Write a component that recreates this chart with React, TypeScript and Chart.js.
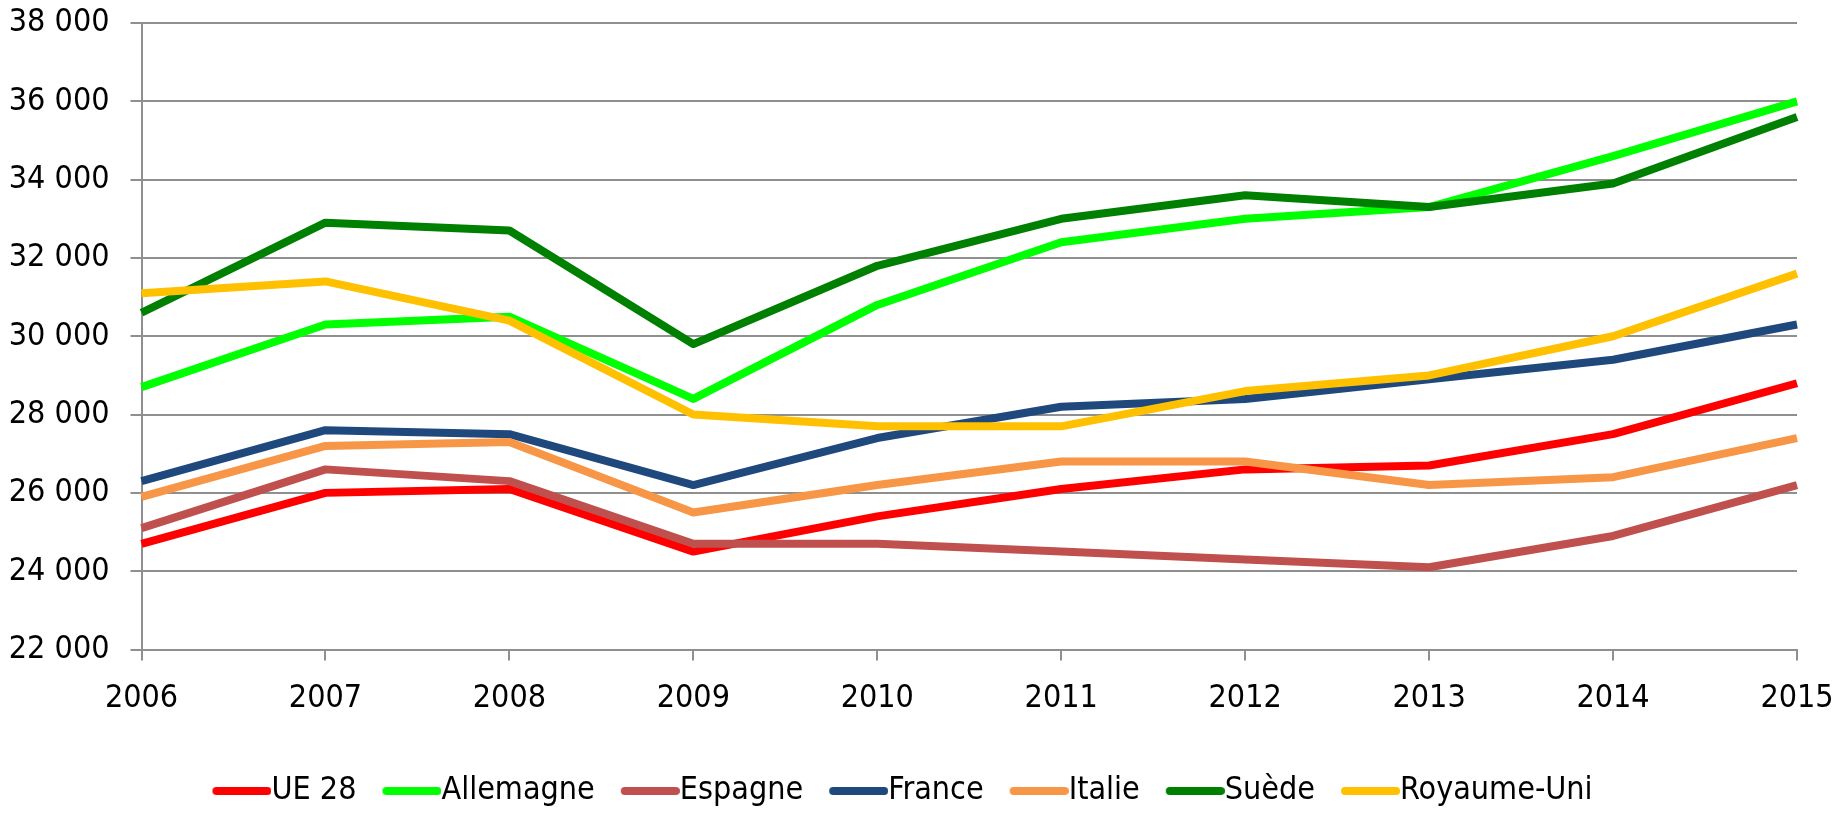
import React, { useEffect, useRef } from 'react';
import { Chart, registerables } from 'chart.js';

Chart.register(...registerables);

const years = ['2006', '2007', '2008', '2009', '2010', '2011', '2012', '2013', '2014', '2015'];

const ue28 = [24700, 26000, 26100, 24500, 25400, 26100, 26600, 26700, 27500, 28800];
const allemagne = [28700, 30300, 30500, 28400, 30800, 32400, 33000, 33300, 34600, 36000];
const espagne = [25100, 26600, 26300, 24700, 24700, 24500, 24300, 24100, 24900, 26200];
const france = [26300, 27600, 27500, 26200, 27400, 28200, 28400, 28900, 29400, 30300];
const italie = [25900, 27200, 27300, 25500, 26200, 26800, 26800, 26200, 26400, 27400];
const suede = [30600, 32900, 32700, 29800, 31800, 33000, 33600, 33300, 33900, 35600];
const royaumeUni = [31100, 31400, 30400, 28000, 27700, 27700, 28600, 29000, 30000, 31600];

const seriesNames = ['UE 28', 'Allemagne', 'Espagne', 'France', 'Italie', 'Suède', 'Royaume-Uni'];
const seriesValues = [ue28, allemagne, espagne, france, italie, suede, royaumeUni];
const seriesColors = ['#FF0000', '#00FF00', '#C0504D', '#1F497D', '#F79646', '#008000', '#FFC000'];

const yMin = 22000;
const yMax = 38000;
const yStep = 2000;

const FONT = "'Liberation Sans Narrow', 'Arial Narrow', 'DejaVu Sans Condensed', sans-serif";
const FONT_SIZE = 32;
const GRID = '#8f8f8f';

const LEG_LINE = 59;
const LEG_BOX = LEG_LINE - FONT_SIZE / 2;

function formatThousands(v: number): string {
  return String(v).replace(/\B(?=(\d{3})+(?!\d))/g, ' ');
}

function makeLegendImage(color: string): HTMLCanvasElement {
  const W = Math.round(2 * (LEG_LINE - LEG_BOX / 2));
  const c = document.createElement('canvas');
  c.width = W;
  c.height = 8;
  const ctx = c.getContext('2d')!;
  ctx.fillStyle = color;
  ctx.beginPath();
  const x0 = W - LEG_LINE, x1 = W, r = 4;
  ctx.moveTo(x0 + r, 0);
  ctx.lineTo(x1 - r, 0);
  ctx.arc(x1 - r, 4, r, -Math.PI / 2, Math.PI / 2);
  ctx.lineTo(x0 + r, 8);
  ctx.arc(x0 + r, 4, r, Math.PI / 2, Math.PI * 1.5);
  ctx.closePath();
  ctx.fill();
  return c;
}

export default function App() {
  const canvasRef = useRef<HTMLCanvasElement | null>(null);

  useEffect(() => {
    if (!canvasRef.current) return;
    const images = seriesColors.map((c) => makeLegendImage(c));
    const chart = new Chart(canvasRef.current, {
      type: 'line',
      data: {
        labels: years,
        datasets: seriesNames.map((name, i) => ({
          label: name,
          data: seriesValues[i],
          borderColor: seriesColors[i],
          backgroundColor: seriesColors[i],
          borderWidth: 8,
          pointRadius: 0,
          pointHoverRadius: 0,
          tension: 0,
          fill: false,
          borderJoinStyle: 'round' as const,
          borderCapStyle: 'butt' as const,
          order: 10 - i,
        })),
      },
      options: {
        responsive: false,
        animation: false,
        devicePixelRatio: 1,
        layout: { padding: { top: 15, right: 41, left: 0, bottom: 0 } },
        plugins: {
          tooltip: { enabled: false },
          legend: {
            position: 'bottom',
            labels: {
              usePointStyle: true,
              pointStyleWidth: LEG_BOX,
              boxHeight: 8,
              padding: 26,
              color: '#000',
              font: { family: FONT, size: FONT_SIZE },
              generateLabels: (ch: any) =>
                ch.data.datasets.map((ds: any, i: number) => ({
                  text: ds.label,
                  fillStyle: ds.borderColor,
                  strokeStyle: ds.borderColor,
                  lineWidth: 0,
                  pointStyle: images[i],
                  hidden: false,
                  datasetIndex: i,
                  fontColor: '#000',
                })),
            },
          },
        },
        scales: {
          x: {
            type: 'category',
            offset: false,
            grid: {
              display: true,
              drawOnChartArea: false,
              drawTicks: true,
              tickLength: 11,
              color: GRID,
              lineWidth: 2,
            },
            border: { display: true, color: GRID, width: 2 },
            ticks: {
              color: '#000',
              padding: 19,
              maxRotation: 0,
              autoSkip: false,
              font: { family: FONT, size: FONT_SIZE },
            },
            afterFit: (scale: any) => {
              scale.height = 99.5;
              scale.paddingLeft = 0;
              scale.paddingRight = 0;
            },
          },
          y: {
            min: yMin,
            max: yMax,
            grid: {
              color: GRID,
              lineWidth: 2,
              drawTicks: true,
              tickLength: 11,
            },
            border: { display: true, color: GRID, width: 2 },
            ticks: {
              stepSize: yStep,
              color: '#000',
              padding: 21,
              font: { family: FONT, size: FONT_SIZE },
              callback: (v: any) => formatThousands(Number(v)),
            },
            afterFit: (scale: any) => {
              scale.width = 133.5;
              scale.paddingTop = 0;
              scale.paddingBottom = 0;
            },
          },
        },
      },
    });
    return () => chart.destroy();
  }, []);

  return (
    <div style={{ width: 1830, height: 805, overflow: 'hidden', background: '#fff' }}>
      <canvas ref={canvasRef} width={1830} height={809} style={{ display: 'block' }} />
    </div>
  );
}
